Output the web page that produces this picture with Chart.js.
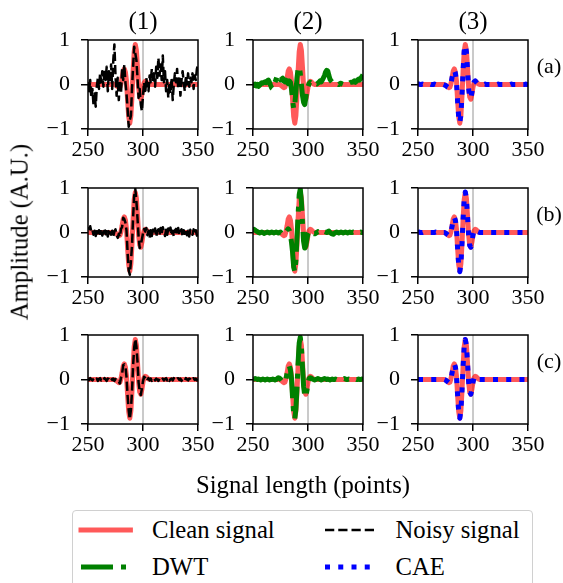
<!DOCTYPE html>
<html><head><meta charset="utf-8">
<script src="https://cdn.jsdelivr.net/npm/chart.js@4.4.0/dist/chart.umd.min.js"></script>
<style>
html,body{margin:0;padding:0;background:#fff;width:563px;height:583px;overflow:hidden;position:relative;}
.t{position:absolute;font-size:22px;color:#000;white-space:nowrap;line-height:1;font-family:"Liberation Serif";}
.cw{position:absolute;}
.cw canvas{display:block;}
#legend{position:absolute;left:72px;top:510px;width:461px;height:90px;border:1.5px solid #d0d0d0;border-radius:4px;box-sizing:border-box;}
</style></head><body>
<div class="t" style="left:-1px;top:-18px;">database.</div>
<div id="root"></div>
<div id="legend"></div>
<script>
// ---------------- data ----------------
const xTicks = [250, 300, 350];
const yTicks = [-1, 0, 1];
const sampleStart = 250;
const markerX = 300;
const columnTitles = ['(1)', '(2)', '(3)'];
const rowLabels = ['(a)', '(b)', '(c)'];
const seriesNames = ['Clean signal', 'Noisy signal', 'DWT', 'CAE'];
const yAxisTitle = 'Amplitude (A.U.)';
const xAxisTitle = 'Signal length (points)';

const cleanSignal = [
 0,0,0,0,0,0,0,0,0,0,
 0,0,0,0,0,0,0,0,0,0,
 0,0,0,0,0,-0.01,-0.03,-0.05,-0.07,-0.06,
 0.02,0.15,0.30,0.35,0.28,0.08,-0.35,-0.72,-0.87,-0.70,
 -0.25,0.30,0.74,0.90,0.77,0.38,-0.05,-0.28,-0.33,-0.22,
 -0.06,0.04,0.07,0.06,0.03,0.01,0,0,0,0,
 0,0,0,0,0,0,0,0,0,0,
 0,0,0,0,0,0,0,0,0,0,
 0,0,0,0,0,0,0,0,0,0,
 0,0,0,0,0,0,0,0,0,0,
 0
];
const noisyA = [
 0.05,-0.15,0.10,-0.30,-0.10,-0.45,-0.20,-0.50,-0.05,0.15,
 -0.10,0.25,0.05,0.30,-0.05,0.35,0.10,0.40,-0.15,0.30,
 0.05,0.45,-0.10,0.55,0.90,0.20,-0.25,0.15,-0.35,0.10,
 -0.20,0.35,0.10,0.45,0.05,-0.20,-0.55,-0.95,-0.80,-0.70,
 -0.10,0.40,0.85,0.70,0.55,0.15,-0.30,-0.10,-0.45,-0.60,
 -0.25,0.05,-0.20,0.15,-0.05,-0.15,0.20,0.05,0.35,0.10,
 0.25,-0.05,0.40,0.15,0.60,0.20,0.45,0.10,0.65,0.05,
 0.30,-0.15,0.10,-0.30,0.05,-0.20,0.15,-0.35,0.00,0.25,
 0.05,0.35,-0.10,0.20,-0.25,0.10,0.30,0.05,-0.15,0.20,
 0.00,0.25,-0.05,0.15,0.05,0.25,-0.10,0.20,0.10,0.35,
 0.45
];
const noisyB = [
 0.12,0.08,0.14,0.02,0.06,-0.05,0.04,-0.08,0.03,-0.06,
 0.05,-0.03,0.08,-0.07,0.02,0.10,-0.04,0.06,-0.09,0.03,
 0.08,-0.05,0.04,-0.08,0.02,0.07,-0.06,-0.12,-0.03,-0.10,
 0.08,0.12,0.33,0.30,0.22,0.05,-0.45,-0.85,-0.95,-0.65,
 -0.30,0.35,0.82,0.98,0.70,0.32,-0.10,-0.35,-0.28,-0.15,
 -0.02,0.08,0.02,0.10,-0.06,0.04,-0.12,0.05,-0.08,0.06,
 -0.04,0.09,-0.10,0.03,0.07,-0.06,0.10,-0.03,0.12,0.02,
 -0.08,0.06,-0.05,0.09,-0.02,0.11,-0.07,0.04,-0.09,0.05,
 0.08,-0.04,0.10,-0.06,0.03,0.07,-0.08,0.05,-0.03,0.08,
 -0.06,0.04,-0.09,0.06,0.02,-0.05,0.07,-0.04,0.05,-0.07,
 0.03
];
const noisyC = [
 0.02,-0.01,0.03,0.00,-0.02,0.01,0.03,-0.01,0.02,-0.03,
 0.01,0.03,-0.02,0.02,-0.01,0.03,0.00,-0.03,0.02,0.01,
 -0.02,0.03,-0.01,0.02,-0.03,0.01,-0.02,-0.06,-0.05,-0.09,
 0.04,0.13,0.32,0.34,0.30,0.06,-0.37,-0.70,-0.89,-0.68,
 -0.27,0.32,0.72,0.91,0.75,0.40,-0.07,-0.26,-0.35,-0.20,
 -0.04,0.06,0.05,0.08,0.01,0.03,-0.02,0.02,-0.03,0.01,
 0.03,-0.02,0.02,0.00,-0.03,0.02,0.03,-0.01,0.02,-0.02,
 0.01,0.03,-0.02,0.02,-0.03,0.01,0.02,-0.02,0.03,0.00,
 -0.02,0.02,0.03,-0.01,0.02,-0.03,0.01,0.02,-0.02,0.03,
 0.00,-0.02,0.02,0.01,-0.03,0.02,0.03,-0.01,0.02,-0.02,
 0.01
];
const dwtA = [
 0.00,-0.02,0.01,-0.03,0.00,-0.04,-0.02,0.02,0.04,0.03,
 0.05,0.06,0.04,0.08,0.10,0.05,-0.02,-0.08,-0.10,-0.05,
 0.05,0.12,0.20,0.22,0.18,0.10,0.12,0.14,0.08,0.06,
 0.10,0.05,0.02,0.08,0.05,-0.10,-0.35,-0.55,-0.45,-0.15,
 0.15,0.35,0.40,0.25,0.00,-0.25,-0.40,-0.45,-0.30,-0.12,
 -0.05,0.02,0.05,0.03,0.00,-0.02,0.00,0.02,0.01,0.03,
 0.05,0.08,0.06,0.10,0.15,0.20,0.28,0.32,0.30,0.20,
 0.12,0.08,0.05,0.06,0.04,0.05,0.03,0.02,0.00,0.02,
 0.03,0.01,0.00,-0.01,0.00,0.01,0.00,0.02,0.04,0.05,
 0.05,0.06,0.08,0.05,0.07,0.10,0.12,0.10,0.14,0.18,
 0.22
];
const dwtB = [
 0.06,0.07,0.05,0.03,0.02,0.00,-0.01,0.00,0.01,0.00,
 -0.02,-0.01,0.00,0.01,0.00,-0.01,0.00,0.01,0.00,-0.01,
 0.00,0.01,0.00,-0.01,0.00,0.01,-0.02,-0.04,-0.05,-0.04,
 0.00,0.05,0.08,0.05,-0.05,-0.22,-0.45,-0.78,-0.88,-0.62,
 -0.12,0.40,0.85,0.98,0.70,0.20,-0.20,-0.35,-0.30,-0.15,
 -0.02,0.03,0.04,0.02,0.00,-0.02,-0.03,-0.02,0.00,0.02,
 0.01,-0.02,-0.03,-0.01,0.01,0.02,0.01,0.00,0.02,0.03,
 0.00,-0.02,-0.03,-0.04,-0.02,0.00,0.01,0.00,-0.01,0.00,
 0.01,0.00,-0.01,0.00,0.01,0.00,-0.01,0.00,0.01,0.00,
 0.00,0.01,0.00,-0.01,0.00,0.01,0.00,0.00,0.01,0.00,
 0.00
];
const dwtC = [
 0.02,0.01,0.02,0.01,0.00,0.01,0.00,-0.01,0.00,0.01,
 0.00,-0.01,0.00,0.01,0.00,-0.01,0.00,0.00,0.01,0.00,
 -0.01,0.00,0.02,0.04,0.03,0.01,-0.02,-0.05,-0.07,-0.05,
 0.02,0.14,0.26,0.30,0.22,0.02,-0.42,-0.78,-0.88,-0.66,
 -0.18,0.38,0.82,0.95,0.72,0.28,-0.15,-0.36,-0.40,-0.25,
 -0.08,0.02,0.04,0.03,0.01,0.00,-0.01,0.00,0.01,0.02,
 0.01,0.00,-0.01,0.00,0.01,0.02,0.01,0.00,0.01,0.00,
 -0.01,0.00,0.01,0.00,0.00,0.01,0.00,-0.01,0.00,0.01,
 0.00,0.00,0.01,0.02,0.01,0.00,0.00,0.01,0.00,0.00,
 0.01,0.00,0.00,0.01,0.00,0.00,0.01,0.00,0.00,0.01,
 0.00
];
const caeA = [
 0.01,0.01,0.00,0.00,0.01,0.00,0.00,0.01,0.00,0.00,
 0.00,0.01,0.00,0.00,0.00,0.01,0.00,0.00,0.00,0.00,
 0.00,0.00,0.01,0.00,-0.01,-0.02,-0.04,-0.06,-0.07,-0.05,
 0.03,0.16,0.28,0.32,0.25,0.05,-0.38,-0.74,-0.86,-0.68,
 -0.22,0.33,0.76,0.88,0.74,0.35,-0.08,-0.30,-0.31,-0.18,
 -0.02,0.06,0.08,0.05,0.02,0.00,0.00,0.00,0.00,0.00,
 0.00,0.01,0.00,0.00,0.00,0.00,0.01,0.00,0.00,0.00,
 0.00,0.00,0.00,0.01,0.00,0.00,0.00,0.00,0.00,0.01,
 0.00,0.00,0.00,0.00,0.00,0.01,0.00,0.00,0.00,0.00,
 0.00,0.00,0.01,0.00,0.00,0.00,0.00,0.00,0.01,0.00,
 0.00
];
const caeB = [
 0.00,0.01,0.00,0.00,0.00,0.01,0.00,0.00,0.00,0.00,
 0.01,0.00,0.00,0.00,0.00,0.00,0.01,0.00,0.00,0.00,
 0.00,0.00,0.00,0.00,0.00,-0.01,-0.03,-0.05,-0.07,-0.06,
 0.02,0.14,0.29,0.34,0.27,0.07,-0.36,-0.73,-0.88,-0.71,
 -0.24,0.31,0.75,0.91,0.76,0.37,-0.06,-0.29,-0.33,-0.21,
 -0.05,0.04,0.07,0.05,0.02,0.01,0.00,0.00,0.00,0.00,
 0.00,0.00,0.00,0.00,0.01,0.00,0.00,0.00,0.00,0.00,
 0.00,0.00,0.00,0.00,0.00,0.00,0.01,0.00,0.00,0.00,
 0.00,0.00,0.00,0.00,0.00,0.00,0.00,0.00,0.00,0.00,
 0.00,0.00,0.00,0.00,0.00,0.00,0.00,0.00,0.00,0.00,
 0.00
];
const caeC = [
 0.00,0.00,0.00,0.00,0.00,0.00,0.00,0.00,0.00,0.00,
 0.00,0.00,0.00,0.00,0.00,0.00,0.00,0.00,0.00,0.00,
 0.00,0.00,0.00,0.00,0.00,-0.01,-0.03,-0.05,-0.07,-0.06,
 0.02,0.15,0.30,0.35,0.28,0.08,-0.35,-0.72,-0.87,-0.70,
 -0.25,0.30,0.74,0.90,0.77,0.38,-0.05,-0.28,-0.33,-0.22,
 -0.06,0.04,0.07,0.06,0.03,0.01,0.00,0.00,0.00,0.00,
 0.00,0.00,0.00,0.00,0.00,0.00,0.00,0.00,0.00,0.00,
 0.00,0.00,0.00,0.00,0.00,0.00,0.00,0.00,0.00,0.00,
 0.00,0.00,0.00,0.00,0.00,0.00,0.00,0.00,0.00,0.00,
 0.00,0.00,0.00,0.00,0.00,0.00,0.00,0.00,0.00,0.00,
 0.00
];

// grid of panels: rows (a),(b),(c); columns (1) noisy, (2) DWT, (3) CAE
const panelSeries = [
  [['noisy', noisyA], ['dwt', dwtA], ['cae', caeA]],
  [['noisy', noisyB], ['dwt', dwtB], ['cae', caeB]],
  [['noisy', noisyC], ['dwt', dwtC], ['cae', caeC]]
];

// ---------------- styling / layout ----------------
const FONT = 'Liberation Serif';
const styles = {
  clean: {color: 'rgba(255,0,0,0.65)', width: 5, dash: [], cap: 'square'},
  noisy: {color: '#000000', width: 2.5, dash: [9.25, 4], cap: 'butt'},
  dwt:   {color: '#008000', width: 5, dash: [32, 8, 5, 8], cap: 'butt'},
  cae:   {color: '#0000ff', width: 5, dash: [5, 8.25], cap: 'butt'}
};
const colLeft = [88, 253, 418];
const rowTop = [40, 188, 335];
const PW = 110, PH = 89;
const PAD_L = 62, PAD_T = 10, PAD_R = 22, PAD_B = 36;

const toPts = arr => arr.map((v, i) => ({x: sampleStart + i, y: v}));
const fmt = v => v < 0 ? '\u2212' + Math.abs(v) : String(v);

const spines = {
  id: 'spines',
  afterDatasetsDraw(chart) {
    const a = chart.chartArea, c = chart.ctx;
    c.save(); c.strokeStyle = '#000'; c.lineWidth = 1.5;
    c.strokeRect(a.left, a.top, a.right - a.left, a.bottom - a.top);
    c.restore();
  }
};

function lineDs(label, data, st, order) {
  return {label, data, borderColor: st.color, borderWidth: st.width, borderDash: st.dash,
    borderCapStyle: st.cap, borderJoinStyle: 'round', pointRadius: 0, tension: 0,
    fill: false, clip: 0, order};
}

Chart.defaults.font.family = FONT;
const root = document.getElementById('root');
for (let r = 0; r < 3; r++) {
  for (let c = 0; c < 3; c++) {
    const wrap = document.createElement('div');
    wrap.className = 'cw';
    wrap.style.left = (colLeft[c] - PAD_L) + 'px';
    wrap.style.top = (rowTop[r] - PAD_T) + 'px';
    const cv = document.createElement('canvas');
    cv.width = PW + PAD_L + PAD_R; cv.height = PH + PAD_T + PAD_B;
    wrap.appendChild(cv); root.appendChild(wrap);
    const [key, arr] = panelSeries[r][c];
    const datasets = [
      lineDs(seriesNames[['clean','noisy','dwt','cae'].indexOf(key)], toPts(arr), styles[key], 0),
      lineDs(seriesNames[0], toPts(cleanSignal), styles.clean, 1),
      {label: 'marker', data: [{x: markerX, y: yTicks[0]}, {x: markerX, y: yTicks[2]}],
       borderColor: '#b8b8b8', borderWidth: 1.5, pointRadius: 0, clip: 0, order: 2}
    ];
    new Chart(cv, {
      type: 'line',
      data: {datasets},
      options: {
        responsive: false, animation: false, devicePixelRatio: 1,
        layout: {padding: {left: 0, top: PAD_T, right: PAD_R, bottom: 0}},
        plugins: {legend: {display: false}, tooltip: {enabled: false}},
        scales: {
          x: {type: 'linear', min: xTicks[0], max: xTicks[2],
            afterBuildTicks: s => { s.ticks = xTicks.map(v => ({value: v})); },
            ticks: {font: {family: FONT, size: 22}, color: '#000', padding: 1, maxRotation: 0, autoSkip: false, callback: fmt},
            grid: {drawOnChartArea: false, drawTicks: true, tickLength: 7, color: '#000', lineWidth: 1.5},
            border: {display: false},
            afterFit: s => { s.height = PAD_B; s.paddingLeft = 0; s.paddingRight = 0; }
          },
          y: {type: 'linear', min: yTicks[0], max: yTicks[2],
            afterBuildTicks: s => { s.ticks = yTicks.map(v => ({value: v})); },
            ticks: {font: {family: FONT, size: 22}, color: '#000', padding: 11, autoSkip: false, callback: fmt},
            grid: {drawOnChartArea: false, drawTicks: true, tickLength: 7, color: '#000', lineWidth: 1.5},
            border: {display: false},
            afterFit: s => { s.width = PAD_L; s.paddingTop = 0; s.paddingBottom = 0; }
          }
        }
      },
      plugins: [spines]
    });
  }
}

// text labels
function addText(parent, txt, x, y, size, transform) {
  const d = document.createElement('div');
  d.className = 't'; d.textContent = txt;
  d.style.left = x + 'px'; d.style.top = y + 'px';
  d.style.fontSize = size + 'px';
  d.style.transform = transform || 'translate(-50%,-50%)';
  parent.appendChild(d);
  return d;
}
columnTitles.forEach((t, i) => addText(document.body, t, colLeft[i] + PW / 2, 20, 25));
rowLabels.forEach((t, i) => addText(document.body, t, 549, rowTop[i] + 26, 22));
addText(document.body, yAxisTitle, 20, 232, 24.7, 'translate(-50%,-50%) rotate(-90deg)');
addText(document.body, xAxisTitle, 303, 485, 24.7);

// legend
const legend = document.getElementById('legend');
const legendItems = [
  {key: 'clean', name: seriesNames[0], hx: 8, ty: 18.5},
  {key: 'noisy', name: seriesNames[1], hx: 251.5, ty: 18.5},
  {key: 'dwt', name: seriesNames[2], hx: 8, ty: 55.5},
  {key: 'cae', name: seriesNames[3], hx: 251.5, ty: 55.5}
];
legendItems.forEach(it => {
  const st = styles[it.key];
  const ns = 'http://www.w3.org/2000/svg';
  const svg = document.createElementNS(ns, 'svg');
  svg.setAttribute('width', 56); svg.setAttribute('height', 12);
  svg.style.position = 'absolute'; svg.style.left = (it.hx - 3) + 'px'; svg.style.top = (it.ty - 6) + 'px';
  const ln = document.createElementNS(ns, 'line');
  ln.setAttribute('x1', 3); ln.setAttribute('x2', 52.4); ln.setAttribute('y1', 6); ln.setAttribute('y2', 6);
  ln.setAttribute('stroke', st.color); ln.setAttribute('stroke-width', st.width);
  ln.setAttribute('stroke-linecap', st.cap);
  if (st.dash.length) ln.setAttribute('stroke-dasharray', st.dash.join(' '));
  svg.appendChild(ln); legend.appendChild(svg);
  addText(legend, it.name, it.hx + 71, it.ty, 24.7, 'translate(0,-50%)');
});
</script>
</body></html>
